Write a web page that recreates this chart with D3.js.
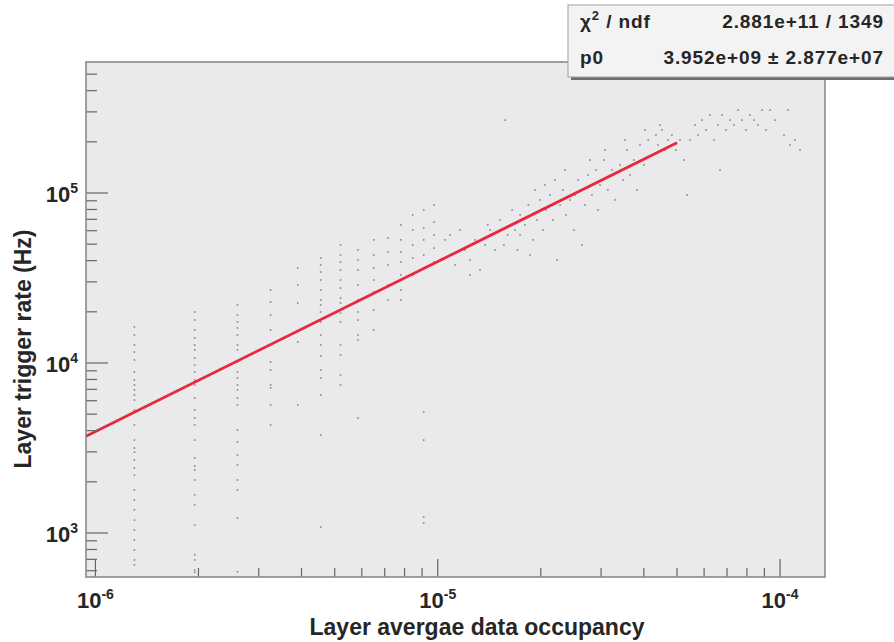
<!DOCTYPE html>
<meta charset="utf-8">
<style>
body { margin: 0; background: #fff; }
svg { display: block; }
.lbl { font-family: "Liberation Sans", Arial, sans-serif; font-weight: bold; fill: #262626; }
.stat { font-family: "Liberation Sans", Arial, sans-serif; font-weight: bold; fill: #262626; font-size: 19px; letter-spacing: 0.9px; }
</style>
<body>
<script src="https://d3js.org/d3.v7.min.js"></script>
<script>
// axis ranges
var xRange = [9.386e-7, 1.353e-4];
var yRange = [551, 5.896e5];
var xMajor = [1e-6, 1e-5, 1e-4];
var yMajor = [1e3, 1e4, 1e5];

// fit: [0]*x
var fitP0 = 3.952e9;
var fitEnd = 5e-5;
var statNames = ["ndf", "p0"];
var statValues = ["2.881e+11 / 1349", "3.952e+09 \u00b1 2.877e+07"];

// low occupancy columns (discrete occupancy values) and their rates (Hz)
var colOcc = [1.3e-6, 1.95e-6, 2.6e-6, 3.25e-6, 3.9e-6, 4.55e-6, 5.2e-6, 5.85e-6,
              6.5e-6, 7.15e-6, 7.8e-6, 8.45e-6, 9.1e-6, 9.75e-6];
var colRates = [
  [16300, 14620, 12760, 11600, 10420, 8850, 7940, 7430, 6940, 6490, 6050, 5290, 4320, 3520,
   3160, 2990, 2690, 2410, 2190, 1790, 1560, 1370, 1190, 1040, 910, 795, 694, 650],
  [19950, 17900, 15630, 14030, 12760, 11920, 10700, 9730, 8850, 7940, 7430, 6220, 5290, 4740,
   4320, 3520, 2760, 2480, 2350, 2050, 1675, 1462, 1114, 743, 694, 606, 587],
  [21930, 19150, 17420, 16070, 14620, 12760, 11920, 10140, 8850, 8160, 7430, 6940, 6220, 5665,
   4040, 3430, 2877, 2512, 2050, 1790, 1225, 592],
  [26850, 22840, 19150, 15630, 12760, 10140, 9100, 7430, 7130, 5665, 4318],
  [36200, 28770, 22540, 13300, 5665],
  [41500, 37700, 34300, 30760, 26850, 23500, 21930, 19950, 17420, 14620, 12760, 11000, 9100,
   8160, 6490, 3770, 1085],
  [49460, 43180, 39260, 35240, 30760, 27610, 24100, 22540, 19680, 17420, 12760, 11150, 8500, 7430],
  [46240, 40360, 35240, 28770, 23500, 19950, 17900, 14620, 13650, 4740],
  [52970, 43180, 36200, 30760, 26180, 20510, 15630],
  [54330, 45000, 37700, 28770, 23500],
  [64880, 52970, 45000, 39260, 32950, 26850, 23500],
  [74300, 60530, 49460, 41500, 32950],
  [79430, 62230, 52970, 43180, 36200, 5150, 3520, 1242, 1146],
  [85000, 67450, 56650, 47420, 39260]
];

// higher occupancy cloud
var cloudOcc = [1.05e-5, 1.086e-5, 1.123e-5, 1.162e-5, 1.202e-5, 1.243e-5, 1.285e-5, 1.329e-5, 1.375e-5, 1.40e-5,
  1.422e-5, 1.47e-5, 1.521e-5, 1.56e-5, 1.573e-5, 1.6e-5, 1.65e-5, 1.682e-5, 1.71e-5, 1.74e-5,
  1.799e-5, 1.84e-5, 1.9e-5, 1.95e-5, 1.99e-5, 2.03e-5, 2.07e-5, 2.129e-5, 2.17e-5, 2.23e-5,
  2.277e-5, 2.32e-5, 2.37e-5, 2.435e-5, 2.50e-5, 2.57e-5, 2.64e-5, 2.693e-5, 2.75e-5, 2.82e-5,
  2.90e-5, 2.94e-5, 2.979e-5, 3.06e-5, 3.14e-5, 3.23e-5, 3.296e-5, 3.408e-5, 3.48e-5, 3.57e-5,
  3.645e-5, 3.74e-5, 3.82e-5, 3.899e-5, 4.0e-5, 4.12e-5, 4.23e-5, 4.34e-5, 4.40e-5, 4.52e-5,
  4.613e-5, 4.71e-5, 4.83e-5, 4.96e-5, 5.102e-5, 5.24e-5, 5.35e-5, 5.457e-5, 5.644e-5, 5.76e-5,
  5.92e-5, 6.08e-5, 6.244e-5, 6.41e-5, 6.59e-5, 6.678e-5, 6.77e-5, 6.95e-5, 7.142e-5, 7.34e-5,
  7.54e-5, 7.74e-5, 7.95e-5, 8.17e-5, 8.39e-5, 8.62e-5, 8.86e-5, 9.10e-5, 9.35e-5, 9.67e-5,
  1.027e-4, 1.056e-4, 1.07e-4, 1.106e-4, 1.144e-4,
  1.924e-5, 2.058e-5, 2.201e-5, 2.355e-5, 2.518e-5, 2.786e-5, 3.081e-5, 3.525e-5, 4.032e-5, 4.46e-5,
  1.74e-5, 1.861e-5, 1.162e-5, 1.086e-5, 1.243e-5];
var cloudRate = [52970, 43180, 37700, 60530, 46240, 40360, 52970, 35240, 49460, 64880,
  60530, 46240, 69340, 49460, 268500, 56650, 79430, 60530, 46240, 74300,
  64880, 85000, 52970, 69340, 90990, 60530, 79430, 97340, 69340, 40360,
  85000, 104200, 74300, 90990, 60530, 119200, 49460, 85000, 127600, 97340,
  136500, 79430, 111500, 156300, 104200, 136500, 90990, 146200, 119200, 179100,
  127600, 156300, 104200, 191500, 146200, 205100, 167500, 219300, 191500, 234800,
  179100, 205100, 219300, 179100, 205100, 156300, 97340, 205100, 251200, 219300,
  268500, 234800, 287700, 205100, 251200, 136500, 287700, 234800, 268500, 251200,
  307600, 268500, 234800, 287700, 268500, 251200, 307600, 234800, 307600, 268500,
  219300, 307600, 191500, 205100, 179100,
  104200, 111500, 119200, 136500, 97340, 156300, 179100, 205100, 234800, 251200,
  56650, 43180, 46240, 56650, 32950];

var W = 894, H = 642;
var frame = { left: 86, right: 825, top: 62, bottom: 577 };

var svg = d3.select("body").append("svg")
    .attr("width", W)
    .attr("height", H);

var x = d3.scaleLog().domain(xRange).range([frame.left, frame.right]);
var y = d3.scaleLog().domain(yRange).range([frame.bottom, frame.top]);

// frame fill
svg.append("rect")
    .attr("x", frame.left).attr("y", frame.top)
    .attr("width", frame.right - frame.left)
    .attr("height", frame.bottom - frame.top)
    .attr("fill", "#eaeaed");

// points
var pts = [];
colOcc.forEach(function(o, i) {
    colRates[i].forEach(function(r) { pts.push([o, r]); });
});
cloudOcc.forEach(function(o, i) { pts.push([o, cloudRate[i]]); });

svg.append("g").selectAll("rect")
    .data(pts)
    .enter().append("rect")
    .attr("x", function(d) { return x(d[0]) - 0.8; })
    .attr("y", function(d) { return y(d[1]) - 0.8; })
    .attr("width", 1.6)
    .attr("height", 1.6)
    .attr("fill", "#333")
    .attr("fill-opacity", 0.55);

// fit line
var fitLine = d3.line()
    .x(function(d) { return x(d); })
    .y(function(d) { return y(fitP0 * d); });
svg.append("path")
    .datum([xRange[0], fitEnd])
    .attr("d", fitLine)
    .attr("fill", "none")
    .attr("stroke", "#e8283c")
    .attr("stroke-width", 2.8);

// ticks
function isMajor(v) { return Math.abs(Math.log10(v) - Math.round(Math.log10(v))) < 1e-6; }

svg.append("g").selectAll("line")
    .data(x.ticks())
    .enter().append("line")
    .attr("x1", function(d) { return x(d); })
    .attr("x2", function(d) { return x(d); })
    .attr("y1", frame.bottom)
    .attr("y2", function(d) { return frame.bottom - (isMajor(d) ? 18 : 9); })
    .attr("stroke", "#666")
    .attr("stroke-width", 1.2);

svg.append("g").selectAll("line")
    .data(y.ticks())
    .enter().append("line")
    .attr("y1", function(d) { return y(d); })
    .attr("y2", function(d) { return y(d); })
    .attr("x1", frame.left)
    .attr("x2", function(d) { return frame.left + (isMajor(d) ? 22 : 11); })
    .attr("stroke", "#666")
    .attr("stroke-width", 1.2);

// frame border
svg.append("rect")
    .attr("x", frame.left).attr("y", frame.top)
    .attr("width", frame.right - frame.left)
    .attr("height", frame.bottom - frame.top)
    .attr("fill", "none")
    .attr("stroke", "#8a8a8a")
    .attr("stroke-width", 1.6);

// tick labels
function powLabel(sel, v) {
    sel.append("tspan").text("10");
    sel.append("tspan")
        .attr("dy", -9)
        .attr("font-size", 14)
        .text(String(Math.round(Math.log10(v))));
}

xMajor.forEach(function(v) {
    var t = svg.append("text")
        .attr("class", "lbl")
        .attr("x", x(v))
        .attr("y", 608)
        .attr("font-size", 22)
        .attr("text-anchor", "middle");
    powLabel(t, v);
});

yMajor.forEach(function(v) {
    var t = svg.append("text")
        .attr("class", "lbl")
        .attr("x", 78)
        .attr("y", y(v) + 9)
        .attr("font-size", 22)
        .attr("text-anchor", "end");
    powLabel(t, v);
});

// axis titles
svg.append("text")
    .attr("class", "lbl")
    .attr("x", 477)
    .attr("y", 635)
    .attr("font-size", 23)
    .attr("text-anchor", "middle")
    .text("Layer avergae data occupancy");

svg.append("text")
    .attr("class", "lbl")
    .attr("transform", "translate(31,349) rotate(-90)")
    .attr("font-size", 23)
    .attr("text-anchor", "middle")
    .text("Layer trigger rate (Hz)");

// stats box
var box = { x: 568, y: 5, w: 340, h: 72 };
svg.append("rect")
    .attr("x", box.x + 3).attr("y", box.y + 3)
    .attr("width", box.w).attr("height", box.h)
    .attr("fill", "#6e6e6e");
svg.append("rect")
    .attr("x", box.x).attr("y", box.y)
    .attr("width", box.w).attr("height", box.h)
    .attr("fill", "#f3f3f3")
    .attr("stroke", "#a0a0a0")
    .attr("stroke-width", 1);

var chi = svg.append("text").attr("class", "stat").attr("x", 580).attr("y", 28);
chi.append("tspan").text("\u03c7");
chi.append("tspan").attr("dy", -8).attr("font-size", 13).text("2");
chi.append("tspan").attr("dy", 8).text(" / " + statNames[0]);

svg.append("text").attr("class", "stat")
    .attr("x", 580).attr("y", 64)
    .text(statNames[1]);

statValues.forEach(function(s, i) {
    svg.append("text").attr("class", "stat")
        .attr("x", 884).attr("y", i === 0 ? 28 : 64)
        .attr("text-anchor", "end")
        .text(s);
});
</script>
</body>
